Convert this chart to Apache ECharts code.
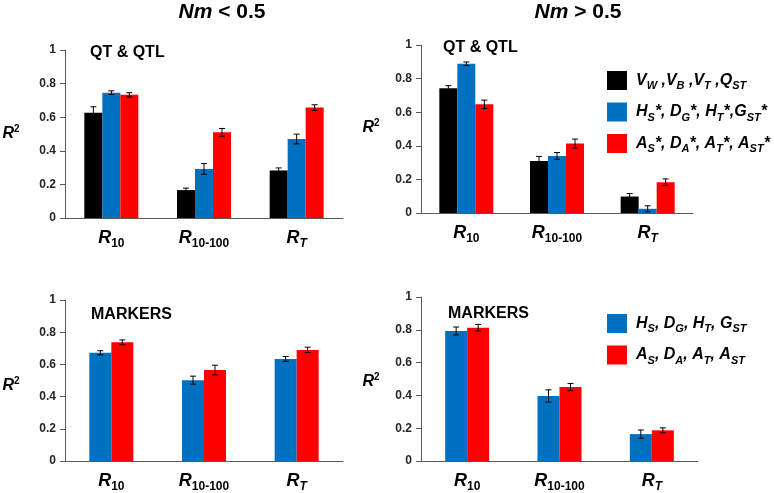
<!DOCTYPE html>
<html>
<head>
<meta charset="utf-8">
<script src="https://cdn.jsdelivr.net/npm/echarts@6/dist/echarts.min.js"></script>
<style>
html,body{margin:0;padding:0;background:#fff;}
#chart{width:774px;height:493px;}
</style>
</head>
<body>
<div id="chart"></div>
<script>
// ---- data ----
var categories = ['R10', 'R10-100', 'RT'];
var catMain = ['R', 'R', 'R'];
var catSub = ['10', '10-100', 'T'];
var catSubItalic = [false, false, true];
var yTicks = [0, 0.2, 0.4, 0.6, 0.8, 1];

// Panel 1: Nm < 0.5, QT & QTL
var p1Black = [0.627, 0.166, 0.283];
var p1BlackErr = [0.035, 0.012, 0.015];
var p1Blue = [0.746, 0.292, 0.470];
var p1BlueErr = [0.011, 0.032, 0.029];
var p1Red = [0.733, 0.510, 0.657];
var p1RedErr = [0.013, 0.023, 0.017];

// Panel 2: Nm > 0.5, QT & QTL
var p2Black = [0.743, 0.310, 0.098];
var p2BlackErr = [0.015, 0.027, 0.018];
var p2Blue = [0.888, 0.340, 0.025];
var p2BlueErr = [0.011, 0.020, 0.018];
var p2Red = [0.647, 0.413, 0.183];
var p2RedErr = [0.025, 0.027, 0.020];

// Panel 3: Nm < 0.5, MARKERS
var p3Blue = [0.672, 0.502, 0.634];
var p3BlueErr = [0.013, 0.025, 0.015];
var p3Red = [0.737, 0.565, 0.690];
var p3RedErr = [0.015, 0.030, 0.017];

// Panel 4: Nm > 0.5, MARKERS
var p4Blue = [0.793, 0.397, 0.164];
var p4BlueErr = [0.024, 0.037, 0.025];
var p4Red = [0.813, 0.451, 0.187];
var p4RedErr = [0.020, 0.022, 0.015];

var seriesNamesQT = ['VW,VB,VT,QST', 'HS*, DG*, HT*,GST*', 'AS*, DA*, AT*, AST*'];
var seriesNamesMK = ['HS, DG, HT, GST', 'AS, DA, AT, AST'];
var legendRich = {
  'VW,VB,VT,QST': '{m|V}{s|W}{m| ,V}{s|B}{m| ,V}{s|T}{m| ,Q}{s|ST}',
  'HS*, DG*, HT*,GST*': '{m|H}{s|S}{m|*, D}{s|G}{m|*, H}{s|T}{m|*,G}{s|ST}{m|*}',
  'AS*, DA*, AT*, AST*': '{m|A}{s|S}{m|*, D}{s|A}{m|*, A}{s|T}{m|*, A}{s|ST}{m|*}',
  'HS, DG, HT, GST': '{m|H}{s|S}{m|, D}{s|G}{m|, H}{s|T}{m|, G}{s|ST}',
  'AS, DA, AT, AST': '{m|A}{s|S}{m|, D}{s|A}{m|, A}{s|T}{m|, A}{s|ST}'
};
var titles = ['Nm', ' < 0.5', 'Nm', ' > 0.5'];
var panelLabels = ['QT & QTL', 'QT & QTL', 'MARKERS', 'MARKERS'];

// ---- styles ----
var FONT = '"Liberation Sans", Arial, sans-serif';
var BLACK = '#000000', BLUE = '#0070C0', RED = '#FF0000';
var AXIS = '#595959';

var grids = [
  {left: 65, top: 50, width: 278, height: 168},
  {left: 421, top: 45, width: 272, height: 168},
  {left: 65, top: 300, width: 278, height: 168},
  {left: 421, top: 297, width: 277, height: 168}
];

function xAxisFor(i) {
  return {
    type: 'category', gridIndex: i, data: categories,
    axisLine: {lineStyle: {color: AXIS, width: 1}},
    axisTick: {show: false},
    axisLabel: {
      margin: 8, interval: 0,
      formatter: function (v, idx) {
        return '{r|' + catMain[idx] + '}{' + (catSubItalic[idx] ? 'si' : 's') + '|' + catSub[idx] + '}';
      },
      rich: {
        r: {fontFamily: FONT, fontSize: 18, fontWeight: 'bold', fontStyle: 'italic', color: '#000', lineHeight: 24},
        s: {fontFamily: FONT, fontSize: 12, fontWeight: 'bold', color: '#000', lineHeight: 12, verticalAlign: 'bottom'},
        si: {fontFamily: FONT, fontSize: 12, fontWeight: 'bold', fontStyle: 'italic', color: '#000', lineHeight: 12, verticalAlign: 'bottom'}
      }
    }
  };
}
function yAxisFor(i) {
  return {
    type: 'value', gridIndex: i, min: yTicks[0], max: yTicks[yTicks.length - 1], interval: 0.2,
    axisLine: {show: true, lineStyle: {color: AXIS, width: 1}},
    axisTick: {show: true, length: 5, lineStyle: {color: AXIS}},
    splitLine: {show: false},
    axisLabel: {
      margin: 9, fontFamily: FONT, fontSize: 12, fontWeight: 'bold', color: '#262626',
      formatter: function (v) { return v === 0 ? '0' : (v === 1 ? '1' : v.toFixed(1)); }
    }
  };
}

function barSeries(name, data, color, gi, bw) {
  return {
    type: 'bar', name: name, data: data, xAxisIndex: gi, yAxisIndex: gi,
    barWidth: bw, barGap: '0%', itemStyle: {color: color}, z: 2
  };
}
function errSeries(vals, errs, idx, n, gi, bw) {
  var d = vals.map(function (v, k) { return [k, v, errs[k]]; });
  return {
    type: 'custom', xAxisIndex: gi, yAxisIndex: gi, z: 5, silent: true,
    encode: {x: 0, y: 1},
    data: d,
    renderItem: function (params, api) {
      var c = api.value(0), v = api.value(1), e = api.value(2);
      var base = api.coord([c, v]);
      var xc = base[0] + (idx - (n - 1) / 2) * bw;
      var yt = api.coord([c, v + e])[1];
      var yb = api.coord([c, v - e])[1];
      var cap = 3;
      var st = {stroke: '#000', lineWidth: 1};
      return {
        type: 'group',
        children: [
          {type: 'line', shape: {x1: xc, y1: yt, x2: xc, y2: yb}, style: st},
          {type: 'line', shape: {x1: xc - cap, y1: yt, x2: xc + cap, y2: yt}, style: st},
          {type: 'line', shape: {x1: xc - cap, y1: yb, x2: xc + cap, y2: yb}, style: st}
        ]
      };
    }
  };
}

var series = [];
var bwQ = 18, bwM = 22;
// panel 1
series.push(barSeries(seriesNamesQT[0], p1Black, BLACK, 0, bwQ));
series.push(barSeries(seriesNamesQT[1], p1Blue, BLUE, 0, bwQ));
series.push(barSeries(seriesNamesQT[2], p1Red, RED, 0, bwQ));
series.push(errSeries(p1Black, p1BlackErr, 0, 3, 0, bwQ));
series.push(errSeries(p1Blue, p1BlueErr, 1, 3, 0, bwQ));
series.push(errSeries(p1Red, p1RedErr, 2, 3, 0, bwQ));
// panel 2
series.push(barSeries(seriesNamesQT[0], p2Black, BLACK, 1, bwQ));
series.push(barSeries(seriesNamesQT[1], p2Blue, BLUE, 1, bwQ));
series.push(barSeries(seriesNamesQT[2], p2Red, RED, 1, bwQ));
series.push(errSeries(p2Black, p2BlackErr, 0, 3, 1, bwQ));
series.push(errSeries(p2Blue, p2BlueErr, 1, 3, 1, bwQ));
series.push(errSeries(p2Red, p2RedErr, 2, 3, 1, bwQ));
// panel 3
series.push(barSeries(seriesNamesMK[0], p3Blue, BLUE, 2, bwM));
series.push(barSeries(seriesNamesMK[1], p3Red, RED, 2, bwM));
series.push(errSeries(p3Blue, p3BlueErr, 0, 2, 2, bwM));
series.push(errSeries(p3Red, p3RedErr, 1, 2, 2, bwM));
// panel 4
series.push(barSeries(seriesNamesMK[0], p4Blue, BLUE, 3, bwM));
series.push(barSeries(seriesNamesMK[1], p4Red, RED, 3, bwM));
series.push(errSeries(p4Blue, p4BlueErr, 0, 2, 3, bwM));
series.push(errSeries(p4Red, p4RedErr, 1, 2, 3, bwM));

var legendText = {
  padding: [0, 0, 0, 4],
  rich: {
    m: {fontFamily: FONT, fontSize: 16, fontWeight: 'bold', fontStyle: 'italic', color: '#000', lineHeight: 22},
    s: {fontFamily: FONT, fontSize: 11, fontWeight: 'bold', fontStyle: 'italic', color: '#000', lineHeight: 10, verticalAlign: 'bottom'}
  }
};

var titleRich = {
  i: {fontFamily: FONT, fontSize: 21, fontWeight: 'bold', fontStyle: 'italic', fill: '#000'},
  n: {fontFamily: FONT, fontSize: 21, fontWeight: 'bold', fill: '#000'}
};
var r2Rich = {
  r: {fontFamily: FONT, fontSize: 16, fontWeight: 'bold', fontStyle: 'italic', fill: '#000', lineHeight: 20},
  p: {fontFamily: FONT, fontSize: 10, fontWeight: 'bold', fill: '#000', lineHeight: 10, verticalAlign: 'top'}
};

function textEl(x, y, text, rich, align) {
  return {type: 'text', x: x, y: y, style: {text: text, rich: rich, align: align, verticalAlign: 'middle'}};
}
function plainText(x, y, text) {
  return {type: 'text', x: x, y: y, style: {text: text, fontFamily: FONT, fontSize: 16, fontWeight: 'bold', fill: '#000', align: 'left', verticalAlign: 'middle'}};
}

var graphics = [
  textEl(222, 12, '{i|' + titles[0] + '}{n|' + titles[1] + '}', titleRich, 'center'),
  textEl(578, 12, '{i|' + titles[2] + '}{n|' + titles[3] + '}', titleRich, 'center'),
  plainText(90, 53, panelLabels[0]),
  plainText(443, 48, panelLabels[1]),
  plainText(91, 315, panelLabels[2]),
  plainText(448, 314, panelLabels[3]),
  textEl(11, 134, '{r|R}{p|2}', r2Rich, 'center'),
  textEl(371, 128, '{r|R}{p|2}', r2Rich, 'center'),
  textEl(11, 386, '{r|R}{p|2}', r2Rich, 'center'),
  textEl(371, 382, '{r|R}{p|2}', r2Rich, 'center')
];

var chart = echarts.init(document.getElementById('chart'), null, {renderer: 'canvas'});
chart.setOption({
  animation: false,
  backgroundColor: '#ffffff',
  grid: grids,
  xAxis: [xAxisFor(0), xAxisFor(1), xAxisFor(2), xAxisFor(3)],
  yAxis: [yAxisFor(0), yAxisFor(1), yAxisFor(2), yAxisFor(3)],
  legend: [
    {data: seriesNamesQT, orient: 'vertical', left: 602, top: 66, itemWidth: 20, itemHeight: 19, itemGap: 11,
     icon: 'rect', selectedMode: false, formatter: function (n) { return legendRich[n]; }, textStyle: legendText},
    {data: seriesNamesMK, orient: 'vertical', left: 602, top: 309, itemWidth: 20, itemHeight: 19, itemGap: 11,
     icon: 'rect', selectedMode: false, formatter: function (n) { return legendRich[n]; }, textStyle: legendText}
  ],
  graphic: graphics,
  series: series
});
</script>
</body>
</html>
